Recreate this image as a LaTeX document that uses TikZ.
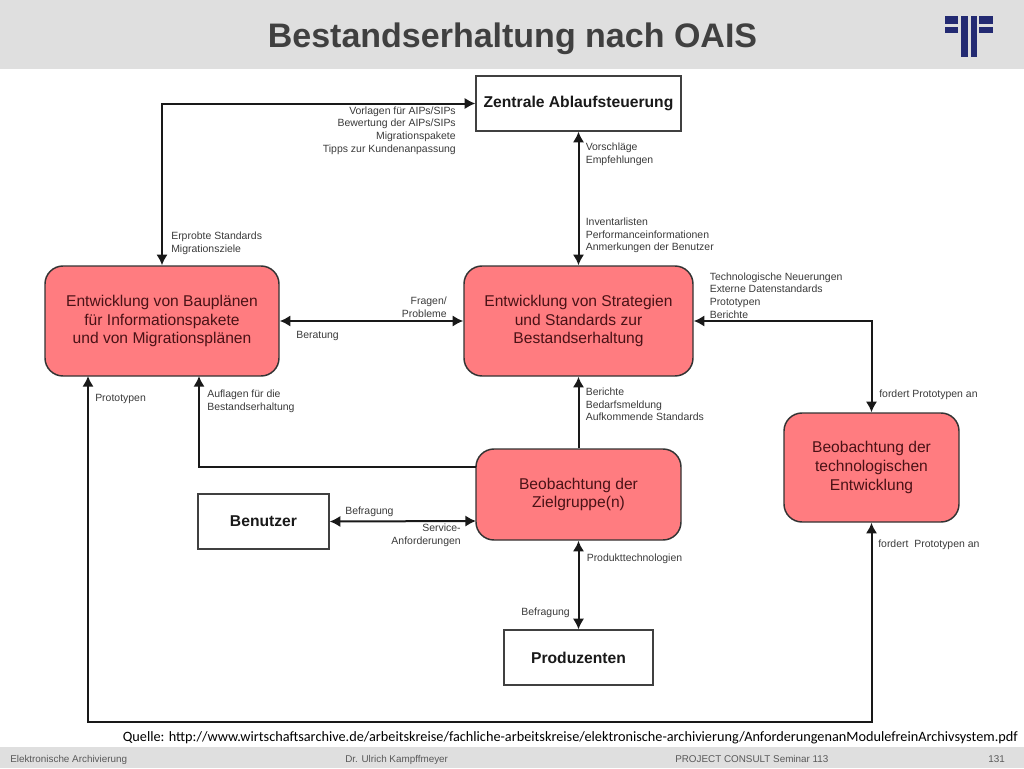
\documentclass[tikz,border=0pt]{standalone}
\usepackage{fontspec}
\setmainfont{Liberation Sans}
\newfontfamily\quellefont{Carlito}
\usetikzlibrary{arrows.meta}
\definecolor{bargray}{HTML}{DFDFDF}
\definecolor{logoblue}{HTML}{232A72}
\definecolor{boxred}{HTML}{FF7C80}
\definecolor{boxtext}{HTML}{4A1216}
\definecolor{labeltext}{HTML}{3A3A3A}
\tikzset{
  redbox/.style={draw=black!80,line width=1.1pt,fill=boxred,rounded corners=13.5pt,text=boxtext,align=center,inner sep=0pt,font=\fontsize{11.7}{14}\selectfont},
  whitebox/.style={draw=black!75,line width=1pt,fill=white,inner sep=0pt,font=\fontsize{11.75}{13}\selectfont\bfseries,text=black!90},
  link/.style={line width=1.5pt,black!90,{Latex[length=8pt,width=8.5pt]}-{Latex[length=8pt,width=8.5pt]}},
  uplink/.style={line width=1.5pt,black!90,-{Latex[length=8pt,width=8.5pt]}},
  lab/.style={text=labeltext,inner sep=0pt,font=\fontsize{7.85}{9.5}\selectfont},
  footer/.style={text=black!65,inner sep=0pt,font=\fontsize{7.4}{9}\selectfont},
  logobar/.style={fill=logoblue,draw=none}
}
\begin{document}
\begin{tikzpicture}[x=0.75pt,y=-0.75pt]
\useasboundingbox (0,0) rectangle (1024,768);
\fill[bargray] (0,0) rectangle (1024,69);
\fill[bargray] (0,747) rectangle (1024,768);
\node[text=black!75,inner sep=0pt,anchor=base,font=\fontsize{25.5}{30}\selectfont\bfseries] (title) at (512.5,47) {Bestandserhaltung nach OAIS};
\fill[logobar] (945,16) rectangle (958,24);
\fill[logobar] (945,27) rectangle (958,33);
\fill[logobar] (961,16) rectangle (968,57);
\fill[logobar] (971,16) rectangle (977,57);
\fill[logobar] (979,16) rectangle (993,24);
\fill[logobar] (979,27) rectangle (993,33);

\node[whitebox,minimum width=153.75pt,minimum height=41.25pt] (zentrale) at (578.5,103.5) {Zentrale Ablaufsteuerung};
\node[redbox,minimum width=175.5pt,minimum height=82.5pt] (bauplaene) at (162,321) {Entwicklung von Bauplänen\\für Informationspakete\\und von Migrationsplänen};
\node[redbox,minimum width=171.75pt,minimum height=82.5pt] (strategien) at (578.5,321) {Entwicklung von Strategien\\und Standards zur\\Bestandserhaltung};
\node[redbox,minimum width=153.75pt,minimum height=68.25pt] (zielgruppe) at (578.5,494.5) {Beobachtung der\\Zielgruppe(n)};
\node[redbox,minimum width=131.25pt,minimum height=81.75pt] (technologie) at (871.5,467.5) {Beobachtung der\\technologischen\\Entwicklung};
\node[whitebox,minimum width=98.25pt,minimum height=41.25pt] (benutzer) at (263.5,521.5) {Benutzer};
\node[whitebox,minimum width=111.75pt,minimum height=41.25pt] (produzenten) at (578.5,657.5) {Produzenten};

\coordinate (zielabzweig) at (476,467);
\coordinate (auflagen) at (199,376);
\coordinate (prototypen) at (88,376);
\coordinate (benutzerrechts) at (476,521);
\coordinate (untenrechts) at (871.5,722);

\draw[link] (zentrale.west) -| (bauplaene.north);
\draw[link] (zentrale.south) -- (strategien.north);
\draw[link] (bauplaene.east) -- (strategien.west);
\draw[uplink] (zielgruppe.north) -- (strategien.south);
\draw[uplink] (zielabzweig) -| (auflagen);
\draw[link] (benutzer.east) -- (benutzerrechts);
\draw[link] (produzenten.north) -- (zielgruppe.south);
\draw[link] (strategien.east) -| (technologie.north);
\draw[link] (prototypen) |- (untenrechts) -- (technologie.south);

\node[lab,anchor=east,align=right] (lvorlagen) at (456,130.5) {Vorlagen für AIPs/SIPs\\Bewertung der AIPs/SIPs\\Migrationspakete\\Tipps zur Kundenanpassung};
\node[lab,anchor=west,align=left] (lerprobt) at (171,243) {Erprobte Standards\\Migrationsziele};
\node[lab,anchor=west,align=left] (lvorschlag) at (585.5,154.5) {Vorschläge\\Empfehlungen};
\node[lab,anchor=west,align=left] (linventar) at (585.5,235.5) {Inventarlisten\\Performanceinformationen\\Anmerkungen der Benutzer};
\node[lab,anchor=east,align=right] (lfragen) at (447,307) {Fragen/\\Probleme};
\node[lab,anchor=west] (lberatung) at (296,336) {Beratung};
\node[lab,anchor=west,align=left] (lneu) at (709.5,295.5) {Technologische Neuerungen\\Externe Datenstandards\\Prototypen\\Berichte};
\node[lab,anchor=west] (lproto) at (95,399) {Prototypen};
\node[lab,anchor=west,align=left] (lauflagen) at (207,401.5) {Auflagen für die\\Bestandserhaltung};
\node[lab,anchor=west,align=left] (lberichte) at (585.5,404.5) {Berichte\\Bedarfsmeldung\\Aufkommende Standards};
\node[lab,anchor=west] (lfordert) at (879,395) {fordert Prototypen an};
\node[lab,anchor=west] (lfordertb) at (878,545) {fordert\ \ Prototypen an};
\node[lab,anchor=west] (lbefragung) at (345,511.5) {Befragung};
\node[lab,anchor=east,align=right] (lservice) at (461,535) {Service-\\Anforderungen};
\node[lab,anchor=west] (lprodukt) at (586.5,559) {Produkttechnologien};
\node[lab,anchor=east] (lbefragungb) at (570,612.5) {Befragung};

\node[anchor=base east,inner sep=0pt,text=black,font=\quellefont\fontsize{10.7}{12}\selectfont] (quelle) at (1018,741) {Quelle: http://www.wirtschaftsarchive.de/arbeitskreise/fachliche-arbeitskreise/elektronische-archivierung/AnforderungenanModulefreinArchivsystem.pdf};
\node[footer,anchor=base west] (farchiv) at (10,762) {Elektronische Archivierung};
\node[footer,anchor=base west] (fautor) at (345,762) {Dr. Ulrich Kampffmeyer};
\node[footer,anchor=base west] (fseminar) at (675,762) {PROJECT CONSULT Seminar 113};
\node[footer,anchor=base east] (fseite) at (1005,762) {131};
\end{tikzpicture}
\end{document}
